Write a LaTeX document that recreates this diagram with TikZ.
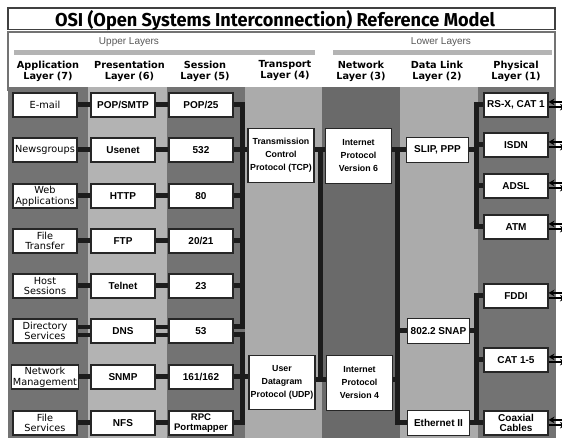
\documentclass[tikz,border=0pt]{standalone}
\usepackage{fontspec}
\setmainfont{Liberation Sans}
\newfontfamily\vfont{DejaVu Sans}
\newfontfamily\titlefont{Fira Sans}
\usetikzlibrary{arrows.meta}
\definecolor{darkcol}{HTML}{737373}
\definecolor{darkcolB}{HTML}{6A6A6A}
\definecolor{lightcol}{HTML}{B3B3B3}
\definecolor{lightcolB}{HTML}{ABABAB}
\definecolor{barcol}{HTML}{B4B4B4}
\definecolor{linecol}{HTML}{1C1C1C}
\begin{document}
\begin{tikzpicture}[x=0.75pt,y=-0.75pt,
  box/.style={draw=black!85, line width=0.8pt, fill=white, minimum width=48pt, minimum height=18pt, inner sep=1pt, align=center, font=\fontsize{7.5}{8}\selectfont\bfseries},
  appbox/.style={box, font=\vfont\fontsize{7.3}{8}\selectfont},
  bigbox/.style={box, minimum width=49.5pt, minimum height=41pt, font=\fontsize{6.6}{9.75}\selectfont\bfseries},
  bus/.style={draw=linecol, line width=3.75pt},
  thinbus/.style={draw=linecol, line width=3pt},
  hdr/.style={font=\vfont\fontsize{7.3}{8.25}\selectfont\bfseries, align=center},
  grp/.style={font=\fontsize{7.5}{8}\selectfont, text=black!65},
  arr/.style={draw=black, line width=1.1pt, -{Stealth[length=4.5pt,width=5pt]}}
]
\useasboundingbox (0,0) rectangle (562,438);
\fill[white] (0,0) rectangle (562,438);
% header frames
\draw[draw=black!75, line width=1.2pt, fill=white] (8,8) rectangle (555,29.5);
\draw[draw=black!55, line width=1.2pt, fill=white] (8,32) rectangle (555,90);
% columns
\fill[darkcol]   (8,87)   rectangle (88,438);
\fill[lightcol]  (88,87)  rectangle (167,438);
\fill[darkcol]   (167,87) rectangle (245,438);
\fill[lightcolB] (245,87) rectangle (322,438);
\fill[darkcolB]  (322,87) rectangle (400,438);
\fill[lightcolB] (400,87) rectangle (478,438);
\fill[darkcol]   (478,87) rectangle (556,438);
% group bars
\fill[barcol] (14,50.5) rectangle (315,55);
\fill[barcol] (333,50.5) rectangle (552,55);
% titles
\node[anchor=base] (title) at (275,26.5) {\resizebox{330pt}{\height}{\titlefont\fontsize{14}{14}\selectfont\bfseries OSI (Open Systems Interconnection) Reference Model}};
\node[grp] (upper) at (129,42) {Upper Layers};
\node[grp] (lower) at (441,42) {Lower Layers};
\node[hdr] (h7) at (48,71) {Application\\Layer (7)};
\node[hdr] (h6) at (129.5,71) {Presentation\\Layer (6)};
\node[hdr] (h5) at (205,71) {Session\\Layer (5)};
\node[hdr] (h4) at (285,71) {Transport\\Layer (4)};
\node[hdr] (h3) at (361,71) {Network\\Layer (3)};
\node[hdr] (h2) at (437,71) {Data Link\\Layer (2)};
\node[hdr] (h1) at (516,71) {Physical\\Layer (1)};
% application boxes
\node[appbox] (a1) at (45,105) {E-mail};
\node[appbox] (a2) at (45,150) {Newsgroups};
\node[appbox] (a3) at (45,196) {Web\\Applications};
\node[appbox] (a4) at (45,241) {File\\Transfer};
\node[appbox] (a5) at (45,286) {Host\\Sessions};
\node[appbox] (a6) at (45,331) {Directory\\Services};
\node[appbox] (a7) at (45,377) {Network\\Management};
\node[appbox] (a8) at (45,423) {File\\Services};
% presentation boxes
\node[box] (b1) at (123,105) {POP/SMTP};
\node[box] (b2) at (123,150) {Usenet};
\node[box] (b3) at (123,196) {HTTP};
\node[box] (b4) at (123,241) {FTP};
\node[box] (b5) at (123,286) {Telnet};
\node[box] (b6) at (123,331) {DNS};
\node[box] (b7) at (123,377) {SNMP};
\node[box] (b8) at (123,423) {NFS};
% session boxes
\node[box] (c1) at (201,105) {POP/25};
\node[box] (c2) at (201,150) {532};
\node[box] (c3) at (201,196) {80};
\node[box] (c4) at (201,241) {20/21};
\node[box] (c5) at (201,286) {23};
\node[box] (c6) at (201,331) {53};
\node[box] (c7) at (201,377) {161/162};
\node[box, font=\fontsize{7.2}{8}\selectfont\bfseries] (c8) at (201,423) {RPC\\Portmapper};
% transport / network
\node[bigbox] (tcp) at (281,155.5) {Transmission\\Control\\Protocol (TCP)};
\node[bigbox] (udp) at (282,382.5) {User\\Datagram\\Protocol (UDP)};
\node[bigbox] (ip6) at (358.5,156) {Internet\\Protocol\\Version 6};
\node[bigbox] (ip4) at (359.5,383) {Internet\\Protocol\\Version 4};
% data link
\node[box, minimum width=47pt, minimum height=19pt] (slip) at (437.5,150) {SLIP, PPP};
\node[box, minimum width=47pt, minimum height=19pt] (snap) at (438.5,331) {802.2 SNAP};
\node[box, minimum width=47pt, minimum height=19pt] (eth) at (438.5,423) {Ethernet II};
% physical
\node[box] (p1) at (516,105) {RS-X, CAT 1};
\node[box] (p2) at (516,145) {ISDN};
\node[box] (p3) at (516,186) {ADSL};
\node[box] (p4) at (516,227) {ATM};
\node[box] (p5) at (516,296) {FDDI};
\node[box] (p6) at (516,360) {CAT 1-5};
\node[box] (p7) at (516,423) {Coaxial\\Cables};
% bus coordinates
\coordinate (tA) at (242.5,327);
\coordinate (tB) at (242.5,335);
\coordinate (nA) at (320,150);
\coordinate (nB) at (320,380);
\coordinate (dA) at (397,150);
\coordinate (pA) at (476.5,105);
% application -> presentation -> session
\foreach \i in {1,2,3,4,5,7,8}{
  \draw[bus] (a\i.east) -- (b\i.west);
  \draw[bus] (b\i.east) -- (c\i.west);
}
\draw[thinbus] ([yshift=3pt]a6.east) -- ([yshift=3pt]b6.west);
\draw[thinbus] ([yshift=-3pt]a6.east) -- ([yshift=-3pt]b6.west);
\draw[thinbus] ([yshift=3pt]b6.east) -- ([yshift=3pt]c6.west);
\draw[thinbus] ([yshift=-3pt]b6.east) -- ([yshift=-3pt]c6.west);
% session -> transport
\draw[bus] (c1.east) -| (tA) -- ([yshift=3pt]c6.east);
\draw[bus] ([yshift=-3pt]c6.east) -- (tB) |- (c8.east);
\foreach \i in {3,4,5}{ \draw[bus] (c\i.east) -- (c\i.east -| tA); }
\draw[bus] (c2.east) -- (c2.east -| tcp.west);
\draw[bus] (c7.east) -- (c7.east -| udp.west);
% transport -> network
\draw[bus] (tcp.east |- nA) -- (ip6.west |- nA);
\draw[bus] (udp.east |- nB) -- (ip4.west |- nB);
\draw[bus] (nA) -- (nB);
% network -> data link
\draw[bus] (ip6.east |- slip.west) -- (slip.west);
\draw[bus] (dA) |- (eth.west);
\draw[bus] (ip4.east |- nB) -- (dA |- nB);
\draw[bus] (dA |- snap.west) -- (snap.west);
% data link -> physical
\draw[bus] (p1.west) -| (pA |- p4.west) -- (p4.west);
\draw[bus] (slip.east) -- (slip.east -| pA);
\draw[bus] (p2.west) -- (p2.west -| pA);
\draw[bus] (p3.west) -- (p3.west -| pA);
\draw[bus] (p5.west) -| (pA |- p7.west) -- (p7.west);
\draw[bus] (snap.east) -- (snap.east -| pA);
\draw[bus] (p6.west) -- (p6.west -| pA);
\draw[bus] (eth.east) -- (eth.east -| pA);
% media arrows
\foreach \i/\y in {1/105,2/145,3/186,4/227,5/296,6/360,7/423}{
  \coordinate (e\i) at (566,\y);
  \draw[arr] ([yshift=2.3pt]e\i) -- ([yshift=2.3pt]p\i.east);
  \draw[arr] ([yshift=-1.6pt]p\i.east) -- ([yshift=-1.6pt]e\i);
}
\end{tikzpicture}
\end{document}
